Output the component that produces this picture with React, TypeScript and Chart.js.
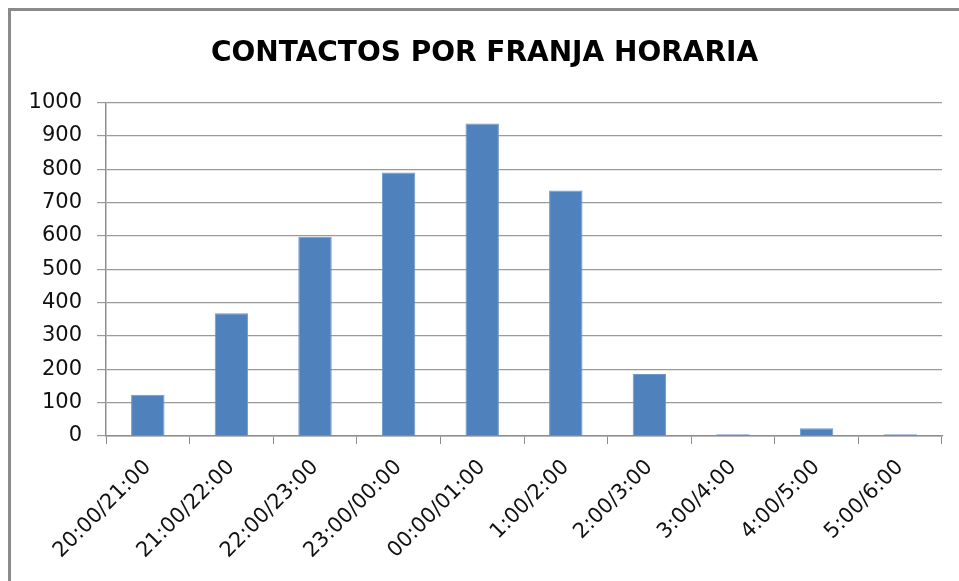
import React, { useEffect, useRef } from "react";
import { Chart, registerables } from "chart.js";

Chart.register(...registerables);

const titleText = "CONTACTOS POR FRANJA HORARIA";
const categories = [
  "20:00/21:00",
  "21:00/22:00",
  "22:00/23:00",
  "23:00/00:00",
  "00:00/01:00",
  "1:00/2:00",
  "2:00/3:00",
  "3:00/4:00",
  "4:00/5:00",
  "5:00/6:00",
];
const contactos = [124, 368, 598, 790, 937, 736, 186, 5, 23, 5];
const yMin = 0;
const yMax = 1000;
const yStep = 100;

export default function App() {
  const ref = useRef<HTMLCanvasElement | null>(null);

  useEffect(() => {
    document.documentElement.style.overflow = "hidden";
    document.body.style.overflow = "hidden";
    if (!ref.current) return;
    const chart = new Chart(ref.current, {
      type: "bar",
      data: {
        labels: categories,
        datasets: [
          {
            label: "Contactos",
            data: contactos,
            backgroundColor: "#4F81BD",
            borderColor: "#6E98CB",
            borderWidth: 1,
            categoryPercentage: 1,
            barPercentage: 0.4,
          },
        ],
      },
      options: {
        animation: false,
        responsive: false,
        maintainAspectRatio: false,
        layout: { padding: { top: 0, right: 33, bottom: 40, left: 17 } },
        plugins: {
          legend: { display: false },
          tooltip: { enabled: false },
          title: {
            display: true,
            text: titleText,
            color: "#000000",
            font: { family: "DejaVu Sans", size: 28, weight: "bold" },
            padding: { top: 27, bottom: 32 },
          },
        },
        scales: {
          x: {
            offset: true,
            grid: {
              display: true,
              offset: true,
              drawOnChartArea: false,
              drawTicks: true,
              tickLength: 8,
              color: "#8e8e8e",
            },
            border: { display: true, color: "#8e8e8e", width: 1.5 },
            ticks: {
              maxRotation: 45,
              minRotation: 45,
              autoSkip: false,
              padding: 11,
              color: "#111111",
              font: { family: "DejaVu Sans", size: 21 },
            },
            afterFit: (scale: any) => {
              scale.height = 134;
            },
          },
          y: {
            min: yMin,
            max: yMax,
            grid: {
              color: "#9a9a9a",
              lineWidth: 1.2,
              drawTicks: true,
              tickLength: 9,
            },
            border: { display: true, color: "#8e8e8e", width: 1.5 },
            ticks: {
              stepSize: yStep,
              padding: 15,
              color: "#111111",
              font: { family: "DejaVu Sans", size: 21 },
              callback: (v: any) => String(v),
            },
            afterFit: (scale: any) => {
              scale.width = 79;
            },
          },
        },
      },
    });
    return () => chart.destroy();
  }, []);

  return (
    <div
      style={{
        position: "fixed",
        left: 0,
        top: 0,
        width: 959,
        height: 581,
        overflow: "hidden",
        background: "#ffffff",
      }}
    >
      <div
        style={{
          position: "absolute",
          left: 8,
          top: 8,
          width: 960,
          height: 600,
          borderLeft: "3px solid #8a8a8a",
          borderTop: "3px solid #8a8a8a",
          boxSizing: "border-box",
        }}
      />
      <canvas
        ref={ref}
        width={965}
        height={600}
        style={{ position: "absolute", left: 10, top: 10, display: "block" }}
      />
    </div>
  );
}
